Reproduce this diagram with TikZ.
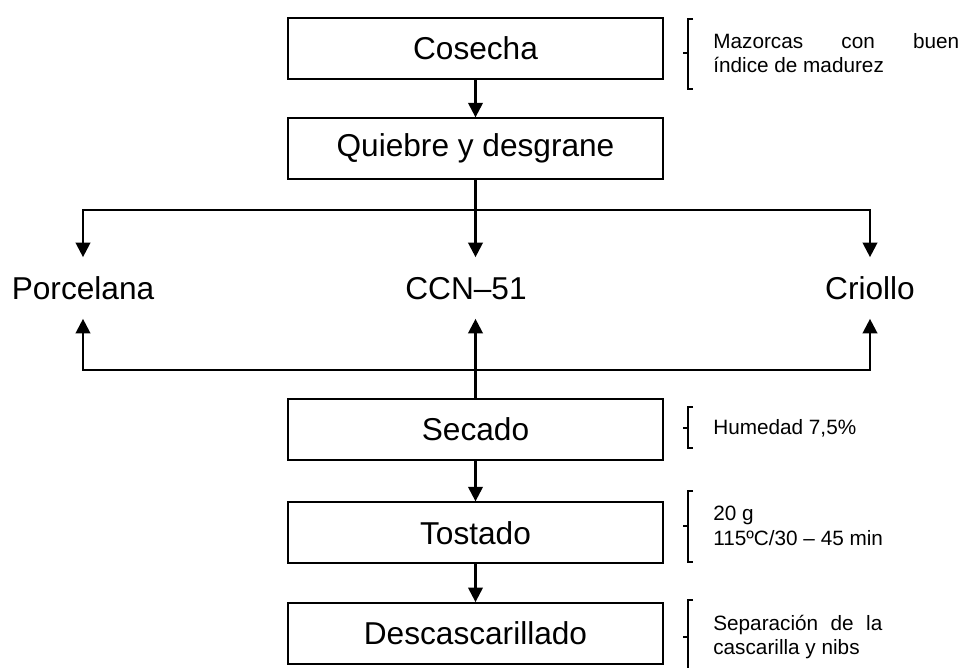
\documentclass[tikz,border=0pt]{standalone}
\usepackage{fontspec}
\setmainfont{Liberation Sans}
\usetikzlibrary{arrows.meta}
\usetikzlibrary{positioning}

\begin{document}
\begin{tikzpicture}[x=0.02cm,y=-0.02cm,
	paso/.style={draw,line width=1pt,minimum width=7.5cm,minimum height=1.22cm,inner sep=0pt,font=\fontsize{18}{21}\selectfont},
	tipo/.style={anchor=base,inner xsep=0pt,inner ysep=0.38cm,text height=0.46cm,text depth=0cm,font=\fontsize{18}{21}\selectfont},
	nota/.style={anchor=west,inner sep=0pt,align=left,font=\fontsize{11.8}{14}\selectfont},
	flecha/.style={line width=1.3pt,-{Triangle[length=0.29cm,width=0.29cm]}},
	corchete/.style={line width=1pt}]
	\useasboundingbox (0,0) rectangle (961,668);
	
	\node[paso] (N1) at (475.5,48.5) {Cosecha};
	\node[paso,below=0.75cm of N1] (N2) {Quiebre y desgrane};
	
	\node[tipo] (T1) at (83,299.5) {Porcelana};
	\node[tipo] (T2) at (466,299.5) {CCN–51};
	\node[tipo] (T3) at (870,299.5) {Criollo};
	
	\node[paso] (N3) at (475.5,429.5) {Secado};
	\node[paso,below=0.81cm of N3] (N4) {Tostado};
	\node[paso,below=0.76cm of N4] (N5) {Descascarillado};
	
	\coordinate (A0) at (475.5,210);
	\coordinate (A1) at (83,210);
	\coordinate (A2) at (870,210);
	\coordinate (B0) at (475.5,370);
	\coordinate (B1) at (83,370);
	\coordinate (B2) at (870,370);
	
	\draw[flecha] (N1) -- (N2);
	\draw[flecha] (N2.south) -- (N2.south |- T2.north);
	\draw[flecha] (A0) -- (A1) -- (A1 |- T1.north);
	\draw[flecha] (A0) -- (A2) -- (A2 |- T3.north);
	\draw[flecha] (N3.north) -- (N3.north |- T2.south);
	\draw[flecha] (B0) -- (B1) -- (B1 |- T1.south);
	\draw[flecha] (B0) -- (B2) -- (B2 |- T3.south);
	\draw[flecha] (N3) -- (N4);
	\draw[flecha] (N4) -- (N5);
	
	% corchetes de las notas
	\foreach \a/\b/\c in {19/89/53, 407/448/428, 491/562/526, 600/680/637}
	\draw[corchete] (693,\a) -- (688,\a) -- (688,\b) -- (693,\b) (683,\c) -- (688,\c);
	
	\node[nota] (M1) at (713,53) {\makebox[4.92cm][s]{Mazorcas con buen}\\índice de madurez};
	\node[nota] (M2) at (713,428) {Humedad 7,5\%};
	\node[nota] (M3) at (713,526) {20 g\\115ºC/30 – 45 min};
	\node[nota] (M4) at (713,637) {\makebox[3.38cm][s]{Separación de la}\\cascarilla y nibs};
\end{tikzpicture}
\end{document}
